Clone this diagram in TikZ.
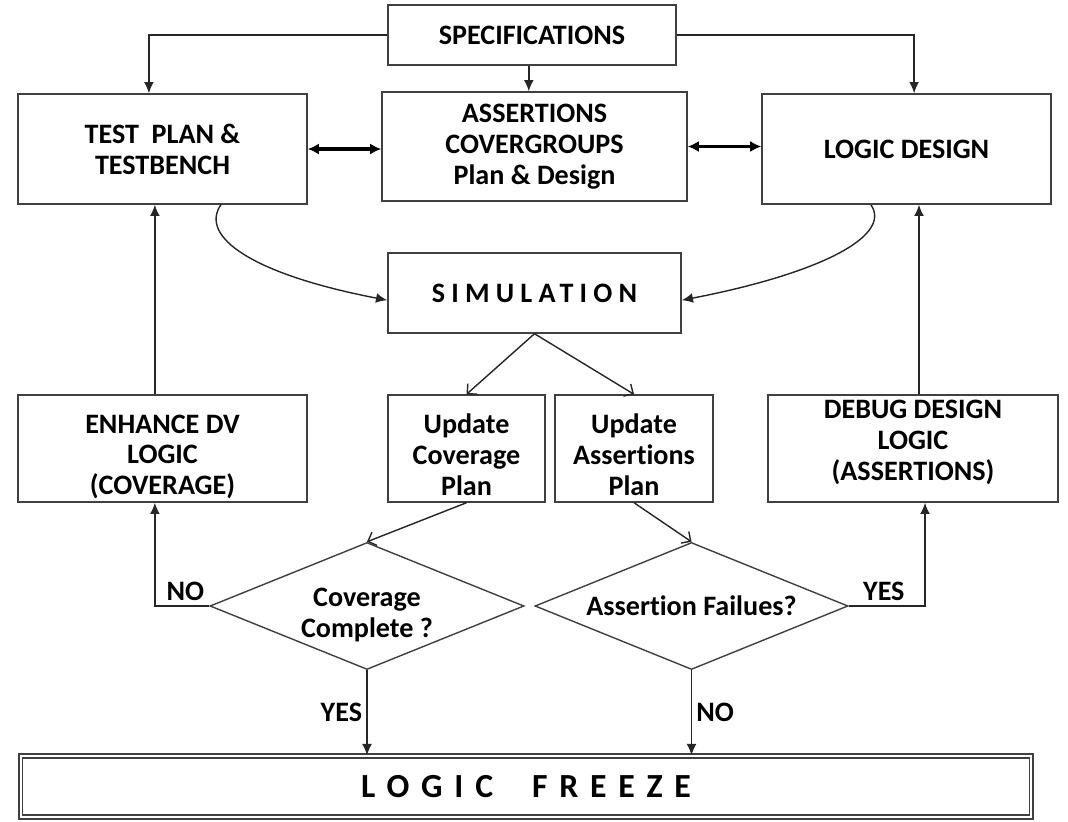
\documentclass[tikz,border=0pt]{standalone}
\usepackage{fontspec}
\setmainfont{Carlito}[Ligatures={NoCommon}]
\usetikzlibrary{arrows.meta,shapes.geometric}

\tikzset{
  box/.style={draw=black!75, line width=1pt, align=center, inner sep=0pt,
    font=\bfseries\fontsize{20}{22}\selectfont},
  decision/.style={box, diamond, aspect=2.47},
  flow/.style={draw=black!85, line width=1pt, -{Latex[length=8pt,width=7pt]}},
  thinflow/.style={draw=black!85, line width=1pt, -{Straight Barb[length=5pt,width=10pt]}},
  link/.style={line width=2.4pt, {Latex[length=8pt,width=8pt]}-{Latex[length=8pt,width=8pt]}},
  answer/.style={font=\bfseries\fontsize{20}{22}\selectfont, inner sep=3pt},
}

\begin{document}
\begin{tikzpicture}[x=0.025cm, y=-0.025cm]
  \useasboundingbox (0,0) rectangle (1068,822);

  % Top row
  \node[box, minimum width=7.2cm, minimum height=1.5cm] (spec) at (532,35) {SPECIFICATIONS};
  \node[box, minimum width=7.225cm, minimum height=2.75cm] (plan) at (162.5,149) {TEST\ \ PLAN \&\\TESTBENCH};
  \node[box, minimum width=7.625cm, minimum height=2.725cm] (assert) at (534.5,146.5) {ASSERTIONS\\COVERGROUPS\\Plan \& Design};
  \node[box, minimum width=7.225cm, minimum height=2.75cm] (design) at (906.5,149) {LOGIC DESIGN};

  % Simulation
  \node[box, minimum width=7.325cm, minimum height=2cm] (sim) at (534.5,293) {\addfontfeature{LetterSpace=22}SIMULATION};

  % Third row
  \node[box, minimum width=7.225cm, minimum height=2.675cm] (enhance) at (162.5,448.5) {\rule{0pt}{25pt}ENHANCE DV\\LOGIC\\(COVERAGE)};
  \node[box, minimum width=3.925cm, minimum height=2.675cm] (upcov) at (466.5,448.5) {\rule{0pt}{22.5pt}Update\\Coverage\\Plan};
  \node[box, minimum width=3.95cm, minimum height=2.675cm] (upass) at (634,448.5) {\rule{0pt}{22.5pt}Update\\Assertions\\Plan};
  \node[box, minimum width=7.25cm, minimum height=2.675cm] (debug) at (913,448.5) {DEBUG DESIGN\\LOGIC\\(ASSERTIONS)\rule[-12pt]{0pt}{1pt}};

  % Decisions
  \node[decision, minimum width=7.85cm, minimum height=3.175cm] (covdec) at (367,606) {\\[4pt]Coverage\\Complete ?};
  \node[decision, minimum width=7.825cm, minimum height=3.175cm] (assdec) at (691.5,606) {Assertion Failues?};

  % Logic freeze
  \node[box, double, double distance=1.5pt, line width=1.1pt, minimum width=25.25cm, minimum height=1.525cm,
    font=\bfseries\fontsize{24}{28}\selectfont] (freeze) at (526,786.5) {\addfontfeature{LetterSpace=35}LOGIC\ \ FREEZE};

  % Specification arrows
  \draw[flow] (spec.west) -| ([xshift=-0.34cm]plan.north);
  \draw[flow] (spec.east) -| ([xshift=0.19cm]design.north);
  \draw[flow] ([xshift=-0.08cm]spec.south) -- ([xshift=-0.08cm]spec.south |- assert.north);
  \draw[link] (plan.east) -- (plan.east -| assert.west);
  \draw[link] (assert.east) -- (assert.east -| design.west);

  % Into simulation
  \draw[flow] ([xshift=1.46cm]plan.south) .. controls +(-22,32) and +(-135,-26) .. ([yshift=-0.18cm]sim.west);
  \draw[flow] ([xshift=-0.89cm]design.south) .. controls +(22,32) and +(135,-26) .. ([yshift=-0.18cm]sim.east);

  % Simulation results
  \draw[thinflow] (sim.south) -- (upcov.north);
  \draw[thinflow] (sim.south) -- (upass.north);
  \draw[thinflow] (upcov.south) -- (covdec.north);
  \draw[thinflow] (upass.south) -- (assdec.north);

  % Decision outcomes
  \draw[flow] (covdec.west) -| ([xshift=-0.19cm]enhance.south) node[answer, pos=0.22, above] {NO};
  \draw[flow] (assdec.east) -| ([xshift=0.3cm]debug.south) node[answer, pos=0.23, above] {YES};
  \draw[flow] (covdec.south) -- (covdec.south |- freeze.north) node[answer, midway, left] {YES};
  \draw[flow] (assdec.south) -- (assdec.south |- freeze.north) node[answer, midway, right] {NO};

  % Feedback
  \draw[flow] ([xshift=-0.19cm]enhance.north) -- ([xshift=-0.19cm]plan.south);
  \draw[flow] ([xshift=0.15cm]debug.north) -- ([xshift=0.15cm]debug.north |- design.south);
\end{tikzpicture}
\end{document}
